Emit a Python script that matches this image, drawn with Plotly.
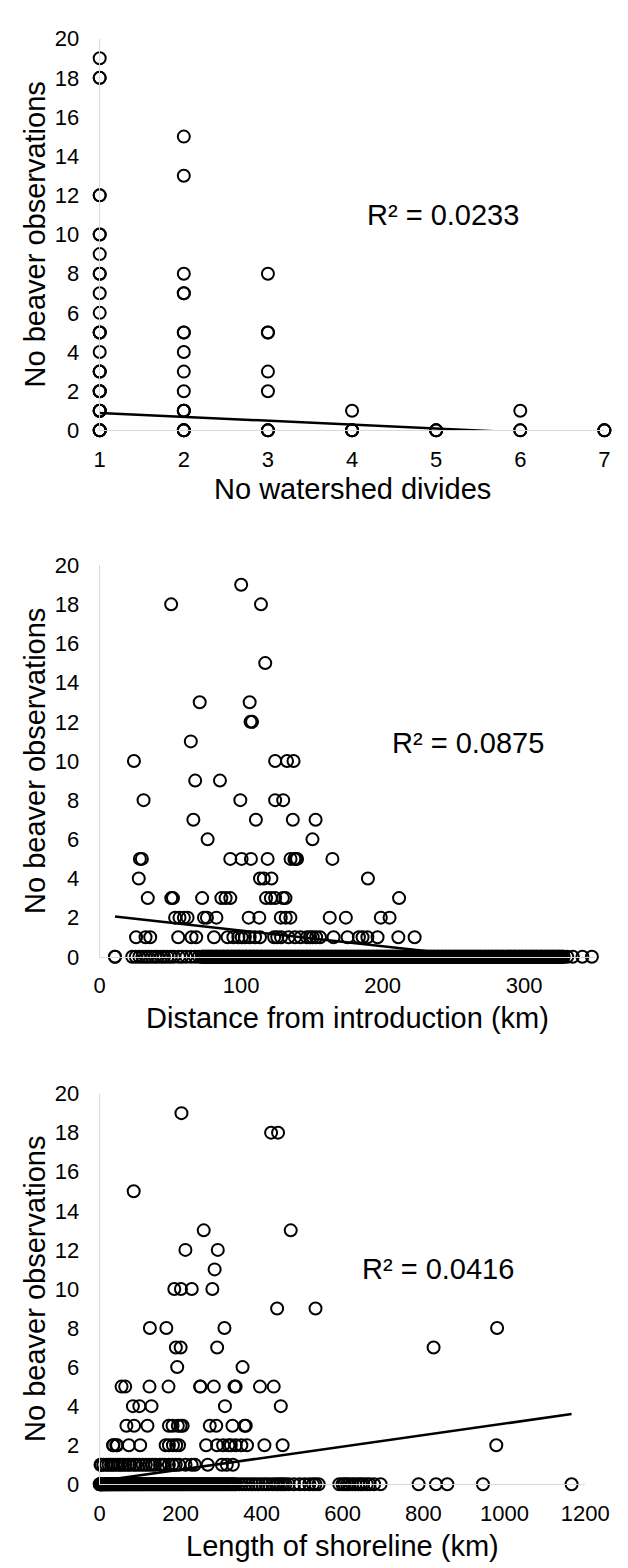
import plotly.graph_objects as go

# ---------------- Panel 1: number of watershed divides ----------------
div_x = [1]*30 + [2]*17 + [3]*8 + [4]*4 + [5]*3 + [6]*3 + [7]*3
div_y = ([19, 18, 18, 12, 12, 10, 10, 9, 8, 8, 7, 6, 5, 5, 5, 4, 3, 3, 3, 2, 2, 2, 1, 1, 1, 1, 0, 0, 0, 0] +
         [15, 13, 8, 7, 7, 5, 5, 4, 3, 2, 1, 1, 1, 0, 0, 0, 0] +
         [8, 5, 5, 3, 2, 0, 0, 0] +
         [1, 0, 0, 0] +
         [0, 0, 0] +
         [1, 0, 0] +
         [0, 0, 0])
div_trend = (-0.199, 1.089)   # slope, intercept
div_r2 = "R² = 0.0233"

# ---------------- Panel 2: distance from introduction ----------------
dist_rows = {
    19: [100],
    18: [50.5, 114],
    15: [117],
    13: [70.7, 106],
    12: [106.6, 107.7],
    11: [64.4],
    10: [24.2, 124, 132.4, 137],
    9: [67.5, 85],
    8: [31, 99.4, 124, 129.7],
    7: [66.2, 110.4, 136.5, 152.6],
    6: [76.3, 150.4],
    5: [28.4, 29.8, 92.3, 100.3, 106.9, 118.7, 134.9, 137.6, 138.6, 139.5, 164.5],
    4: [27.6, 113.3, 116, 121.4, 189.6],
    3: [34, 50.6, 51.8, 72.4, 86, 89, 92.3, 117.6, 121, 124, 129.5, 131.3, 211.6],
    2: [53.3, 56.4, 59.5, 62.1, 73.7, 75.8, 82.5, 105.3, 112.8, 128, 131.5, 134.8,
        162.6, 174, 198.7, 204.9],
    1: [25.7, 32.4, 35.7, 55.5, 64.9, 68.2, 80.8, 90.4, 94.5, 98, 100.4, 102.6, 106,
        109.8, 113.3, 123.3, 125.5, 128.2, 133.5, 138, 142, 146.5, 148.7, 150.6, 153,
        155.7, 165.3, 175.2, 183.2, 185.8, 189.2, 196.4, 211.1, 222.6],
    0: [10.8, 10.8, 23, 25.5, 28, 30.2, 32.5, 34.4, 36.8, 39.1, 41, 43.6, 45.5, 47.9,
        50.2, 52.4, 56, 58.3, 61.2, 64.5, 67.3, 70.1,
        72.0, 73.1, 74.5, 75.3, 76.6, 77.6, 78.9, 79.8, 81.2, 82.3, 83.1, 84.6, 85.4,
        86.9, 87.7, 89.0, 90.3, 91.1, 92.6, 93.4, 94.8, 95.8, 97.0, 98.3, 99.1, 100.5,
        101.4, 102.9, 103.6, 105.0, 106.3, 107.1, 108.6, 109.3, 110.8, 111.6, 113.0,
        114.2, 115.0, 116.5, 117.3, 118.8, 119.5, 120.9, 122.1, 123.0, 124.4, 125.2,
        126.7, 127.5, 128.9, 130.1, 131.0, 132.4, 133.2, 134.7, 135.5, 136.9, 138.1,
        139.0, 140.4, 141.2, 142.7, 143.5, 144.9, 146.1, 147.0, 148.4, 149.2, 150.7,
        151.5, 152.9, 154.1, 155.0, 156.4, 157.6, 158.5, 159.9, 160.8, 162.1, 163.4,
        164.2, 165.7, 166.5, 167.9, 169.1, 170.0, 171.4, 172.2, 173.7, 174.5, 175.9,
        177.1, 178.0, 179.4, 180.2, 181.7, 182.5, 183.9, 185.1, 186.0, 187.4, 188.2,
        189.7, 190.5, 191.9, 193.1, 194.0, 195.4, 196.2, 197.3, 198.5, 199.5, 200.9,
        202.1, 203.0, 204.4, 205.2, 206.7, 207.5, 208.9, 210.1, 211.0, 212.4, 213.2,
        214.7, 215.5, 216.9, 218.1, 219.0, 220.3, 221.3, 222.7, 223.5, 224.9, 226.1,
        227.0, 228.4, 229.2, 230.7, 231.5, 232.9, 234.1, 235.0, 236.4, 237.2, 238.7,
        239.5, 240.9, 242.1, 243.0, 244.4, 245.2, 246.7, 247.5, 248.9, 250.1, 251.0,
        252.4, 253.2, 254.7, 255.5, 256.9, 258.1, 259.0, 260.4, 261.2, 262.7, 263.5,
        264.9, 266.1, 267.0, 268.4, 269.2, 270.8, 272.1, 273.0, 274.4, 275.2, 276.7,
        277.5, 278.9, 280.1, 281.0, 282.4, 283.2, 284.7, 285.5, 286.9, 288.1, 289.0,
        290.4, 291.2, 292.7, 293.5, 294.9, 296.1, 297.0, 298.4, 299.2, 300.7, 301.5,
        302.9, 304.1, 305.0, 306.4, 307.2, 308.7, 309.5, 310.9, 312.1, 313.0, 314.4,
        315.2, 316.7, 317.5, 318.9, 320.1, 321.0, 322.4, 323.2, 324.7, 325.5, 326.9,
        328.0, 330.5, 334.4, 341.2, 347.9],
}
# further lakes with zero observations packed inside the dense 72-328 km band
dist_zero_band = [
    72.5, 73.7, 74.9, 76.1, 77.0, 78.3, 79.3, 80.5, 81.7, 82.7, 83.8, 85.0, 86.2,
    87.3, 88.4, 89.6, 90.7, 91.8, 93.0, 94.1, 95.2, 96.4, 97.6, 98.7, 99.8, 100.9,
    102.1, 103.2, 104.3, 105.6, 106.7, 107.8, 108.9, 110.0, 111.2, 112.3, 113.5,
    114.6, 115.7, 116.9, 118.0, 119.1, 120.2, 121.4, 122.5, 123.7, 124.8, 125.9,
    127.1, 128.2, 129.4, 130.5, 131.7, 132.8, 133.9, 135.1, 136.2, 137.4, 138.5,
    139.7, 140.8, 141.9, 143.1, 144.2, 145.4, 146.5, 147.6, 148.8, 149.9, 151.1,
    152.2, 153.4, 154.5, 155.7, 156.9, 158.0, 159.2, 160.3, 161.4, 162.7, 163.8,
    164.9, 166.1, 167.2, 168.4, 169.5, 170.7, 171.8, 172.9, 174.1, 175.2, 176.4,
    177.6, 178.7, 179.8, 180.9, 182.1, 183.2, 184.4, 185.6, 186.7, 187.8, 188.9,
    190.1, 191.2, 192.4, 193.6, 194.7, 195.8, 196.8, 197.9, 199.0, 200.2, 201.5,
    202.6, 203.7, 204.8, 206.0, 207.1, 208.2, 209.5, 210.6, 211.7, 212.8, 214.0,
    215.1, 216.2, 217.5, 218.6, 219.7, 220.8, 222.0, 223.1, 224.2, 225.5, 226.6,
    227.7, 228.8, 230.0, 231.1, 232.2, 233.5, 234.6, 235.7, 236.8, 238.0, 239.1,
    240.2, 241.5, 242.6, 243.7, 244.8, 246.0, 247.1, 248.2, 249.5, 250.6, 251.7,
    252.8, 254.0, 255.1, 256.2, 257.5, 258.6, 259.7, 260.8, 262.0, 263.1, 264.2,
    265.5, 266.6, 267.7, 268.8, 270.0, 271.4, 272.6, 273.7, 274.8, 276.0, 277.1,
    278.2, 279.5, 280.6, 281.7, 282.8, 284.0, 285.1, 286.2, 287.5, 288.6, 289.7,
    290.8, 292.0, 293.1, 294.2, 295.5, 296.6, 297.7, 298.8, 300.0, 301.1, 302.2,
    303.5, 304.6, 305.7, 306.8, 308.0, 309.1, 310.2, 311.5, 312.6, 313.7, 314.8,
    316.0, 317.1, 318.2, 319.5, 320.6, 321.7, 322.8, 324.0, 325.1, 326.2, 327.5]
dist_trend = (-0.0080, 2.14)
dist_r2 = "R² = 0.0875"

# ---------------- Panel 3: length of shoreline ----------------
shore_rows = {
    19: [202],
    18: [423.5, 440.7],
    15: [84],
    13: [257, 472],
    12: [211.8, 291.8],
    11: [284],
    10: [184.3, 200.8, 227.5, 278.4],
    9: [438.4, 533.3],
    8: [124, 164.7, 308.2, 982],
    7: [188.2, 200, 290.2, 825],
    6: [191.5, 353],
    5: [54, 63, 123, 170, 248, 249, 282, 333, 336, 396, 430],
    4: [82, 98, 128, 309.5, 447.5],
    3: [66, 85, 118, 171, 180, 193, 200, 205, 272, 288, 328, 358, 361],
    2: [33, 34, 41, 43, 72, 100, 163, 171, 181, 189, 196, 263, 290, 305, 318, 324,
        336, 350, 364, 407, 452, 980],
    1: [2, 4, 9, 16, 22, 28, 33, 39, 46, 51, 57, 63, 70, 75, 84, 90, 98, 106, 114,
        122, 130, 137, 149, 155, 161, 171, 180, 188, 196, 212, 227, 235, 267, 302,
        314, 329],
    0: [0, 0.5, 1.2, 2.1, 3.4, 4.2, 5.6, 6.5, 7.9, 9.1, 10.4, 11.7, 13.2, 14.6, 16.3,
        17.8, 19.5, 21.1, 22.8, 24.7, 26.3, 28.2, 30.1, 31.8, 33.7, 35.4, 37.6, 39.3,
        41.5, 43.4, 45.6, 47.3, 49.7, 51.6, 53.9, 55.7, 58.1, 60.2, 62.4, 64.5, 66.9,
        68.8, 71.3, 73.4, 75.8, 78.0, 80.5, 82.6, 85.1, 87.5, 90.0, 92.3, 94.9, 97.3,
        99.8, 102.4, 105.0, 107.3, 110.1, 112.6, 115.4, 117.8, 120.5, 123.2, 126.0,
        128.6, 131.4, 134.1, 137.0, 139.6, 142.5, 145.3, 148.2, 150.9, 153.9, 156.6,
        159.7, 162.4, 165.5, 168.3, 171.4, 174.2, 177.4, 180.3, 183.5, 186.4, 189.6,
        192.7, 195.8, 198.9, 202.1, 205.3, 208.5, 211.6, 214.9, 218.1, 221.4, 224.6,
        228.0, 231.3, 234.7, 238.0, 241.4, 244.9, 248.3, 251.7, 255.2, 258.7, 262.1,
        265.6, 269.2, 272.8, 276.3, 279.9, 283.5, 287.2, 290.8, 294.6, 298.2, 302.0,
        305.8, 309.6, 313.4, 317.3, 321.1, 325.0, 329.0, 333.0, 337.0,
        345, 352, 360, 368, 376, 385, 393, 402, 410, 418, 427, 435, 441, 447, 453, 459,
        467, 480, 494, 506, 518, 527, 533, 541, 592, 600, 605, 611, 616, 624, 631, 639,
        645, 651, 660, 667, 678, 694, 788, 831, 859, 947, 1166],
}
shore_trend = (0.00294, 0.165)
shore_r2 = "R² = 0.0416"

# ---------------- figure ----------------
W, H = 628, 1568
FONT = "Liberation Sans, Arial, sans-serif"
GRID = "#d9d9d9"


def rows_to_xy(rows, extra_zero=()):
    xs, ys = [], []
    for yv, xl in rows.items():
        xs.extend(xl)
        ys.extend([yv] * len(xl))
    xs.extend(extra_zero)
    ys.extend([0] * len(extra_zero))
    return xs, ys


dist_x, dist_y = rows_to_xy(dist_rows, dist_zero_band)
shore_x, shore_y = rows_to_xy(shore_rows)

panels = [
    dict(x=div_x, y=div_y, trend=div_trend, r2=div_r2, title="No watershed divides",
         xrange=[1, 7], tickvals=[1, 2, 3, 4, 5, 6, 7],
         px=(90, 620), py=(19, 417), r2pos=(450, 198), tpos=477),
    dict(x=dist_x, y=dist_y, trend=dist_trend, r2=dist_r2,
         title="Distance from introduction (km)",
         xrange=[0, 350], tickvals=[0, 100, 200, 300],
         px=(90, 610), py=(554, 952), r2pos=(477, 735), tpos=1014),
    dict(x=shore_x, y=shore_y, trend=shore_trend, r2=shore_r2,
         title="Length of shoreline (km)",
         xrange=[0, 1200], tickvals=[0, 200, 400, 600, 800, 1000, 1200],
         px=(90, 600), py=(1091, 1488), r2pos=(445, 1269), tpos=1551),
]

fig = go.Figure()
annotations = []
for i, p in enumerate(panels, start=1):
    xa = "x" if i == 1 else f"x{i}"
    ya = "y" if i == 1 else f"y{i}"
    fig.add_trace(go.Scatter(
        x=p["x"], y=p["y"], mode="markers", xaxis=xa, yaxis=ya,
        marker=dict(symbol="circle-open", size=12, color="black",
                    line=dict(width=2.0, color="black")),
        cliponaxis=False, showlegend=False, hoverinfo="skip"))
    slope, icpt = p["trend"]
    x0, x1 = min(p["x"]), max(p["x"])
    fig.add_trace(go.Scatter(
        x=[x0, x1], y=[icpt + slope * x0, icpt + slope * x1], mode="lines",
        xaxis=xa, yaxis=ya, line=dict(color="black", width=2.5),
        cliponaxis=True, showlegend=False, hoverinfo="skip"))

    xdom = [p["px"][0] / W, p["px"][1] / W]
    ydom = [1 - p["py"][1] / H, 1 - p["py"][0] / H]
    common = dict(showgrid=False, zeroline=False, showline=True, linecolor=GRID,
                  linewidth=1.3, ticks="", tickfont=dict(family=FONT, size=22, color="black"))
    fig.layout[("xaxis" if i == 1 else f"xaxis{i}")] = dict(
        domain=xdom, range=p["xrange"], tickvals=p["tickvals"], anchor=ya,
        ticklabelstandoff=9, **common)
    fig.layout[("yaxis" if i == 1 else f"yaxis{i}")] = dict(
        domain=ydom, range=[0, 20], tickvals=list(range(0, 21, 2)), anchor=xa,
        ticklabelstandoff=15, **common)

    annotations.append(dict(
        text=p["title"], x=(p["px"][0] + p["px"][1]) / 2 / W, y=1 - p["tpos"] / H,
        xref="paper", yref="paper", showarrow=False, xanchor="center", yanchor="middle",
        font=dict(family=FONT, size=29, color="black")))
    annotations.append(dict(
        text="No beaver observations", x=22 / W, y=1 - (p["py"][0] + p["py"][1]) / 2 / H,
        xref="paper", yref="paper", showarrow=False, textangle=-90,
        xanchor="center", yanchor="middle",
        font=dict(family=FONT, size=29, color="black")))
    annotations.append(dict(
        text=p["r2"], x=p["r2pos"][0] / W, y=1 - p["r2pos"][1] / H,
        xref="paper", yref="paper", showarrow=False, xanchor="center", yanchor="middle",
        font=dict(family=FONT, size=29, color="black")))

fig.update_layout(width=W, height=H, margin=dict(l=0, r=0, t=0, b=0),
                  paper_bgcolor="white", plot_bgcolor="white",
                  annotations=annotations)

fig.write_html("out.html")
